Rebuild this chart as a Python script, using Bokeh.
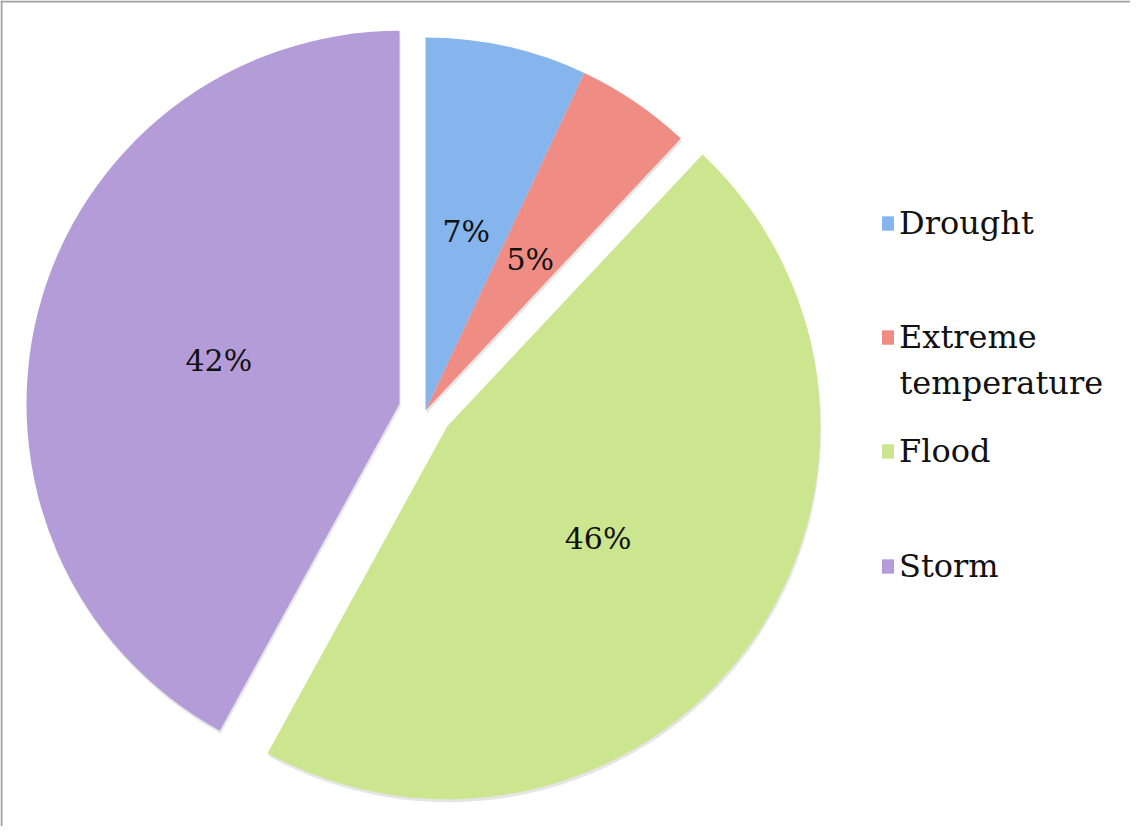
import math
from bokeh.plotting import figure
from bokeh.models import ColumnDataSource, Range1d, Legend, LegendItem, Label, Span
from bokeh.core.properties import value
from bokeh.embed import file_html
from bokeh.resources import INLINE

# ---- data ----
categories = ["Drought", "Extreme temperature", "Flood", "Storm"]
legend_labels = ["Drought", "Extreme", "Flood", "Storm"]
shares = [7, 5, 46, 42]
pct_labels = ["7%", "5%", "46%", "42%"]

# ---- style ----
colors = ["#86b5ee", "#ef8c84", "#cce690", "#b39cd8"]
explode = [0.0, 0.0, 0.072, 0.072]
FONT = "DejaVu Serif"
W, H = 1130, 826
CX, CY, R = 433, 416, 373

total = float(sum(shares))
starts, ends, xs, ys, lx, ly = [], [], [], [], [], []
acc = 0.0
for s, e in zip(shares, explode):
    a1 = acc / total * 360.0
    a2 = (acc + s) / total * 360.0
    acc += s
    mid = math.radians(90.0 - (a1 + a2) / 2.0)
    cx = CX + e * R * math.cos(mid)
    cy = CY + e * R * math.sin(mid)
    xs.append(cx)
    ys.append(cy)
    starts.append(math.radians(90.0 - a2))
    ends.append(math.radians(90.0 - a1))
    lx.append(cx + 0.50 * R * math.cos(mid))
    ly.append(cy + 0.50 * R * math.sin(mid) - 3)

src = ColumnDataSource(dict(x=xs, y=ys, start=starts, end=ends, color=colors,
                            cat=categories, lab=pct_labels, lx=lx, ly=ly,
                            sx=[v + 1 for v in xs], sy=[v - 3 for v in ys]))

p = figure(width=W, height=H, x_range=Range1d(8, 8 + W), y_range=Range1d(0, H),
           output_backend="svg", toolbar_location=None, min_border=0)
p.axis.visible = False
p.grid.visible = False
p.outline_line_color = None
p.background_fill_color = "white"

# chart-area border (left and top edges visible in the original crop)
p.add_layout(Span(location=9, dimension="height", line_color="#a0a0a0", line_width=2))
p.add_layout(Span(location=H - 1, dimension="width", line_color="#a0a0a0", line_width=2))

# soft shadow
p.wedge(x="sx", y="sy", radius=R, start_angle="start", end_angle="end",
        fill_color="black", fill_alpha=0.10, line_color=None, source=src)
r = p.wedge(x="x", y="y", radius=R, start_angle="start", end_angle="end",
            fill_color="color", line_color=None, source=src)

p.text(x="lx", y="ly", text="lab", source=src, text_font=value(FONT),
       text_font_size="30px", text_color="#111111", text_align="center",
       text_baseline="middle")

# legends (one per entry, placed like the original)
leg_bottoms = [584, 470, 356, 241]
for i, (lbl, vb) in enumerate(zip(legend_labels, leg_bottoms)):
    lg = Legend(items=[LegendItem(label=lbl, renderers=[r], index=i)],
                location=(880, vb), padding=0, margin=0, spacing=0,
                border_line_color=None, background_fill_alpha=0,
                glyph_width=15, glyph_height=18, label_standoff=4,
                label_text_font=FONT, label_text_font_size="32px",
                label_text_color="#111111")
    p.add_layout(lg)

p.add_layout(Label(x=907, y=834 - 390, text="temperature", text_font=FONT,
                   text_font_size="32px", text_color="#111111",
                   text_baseline="middle"))

open("out.html", "w").write(file_html(p, INLINE))
